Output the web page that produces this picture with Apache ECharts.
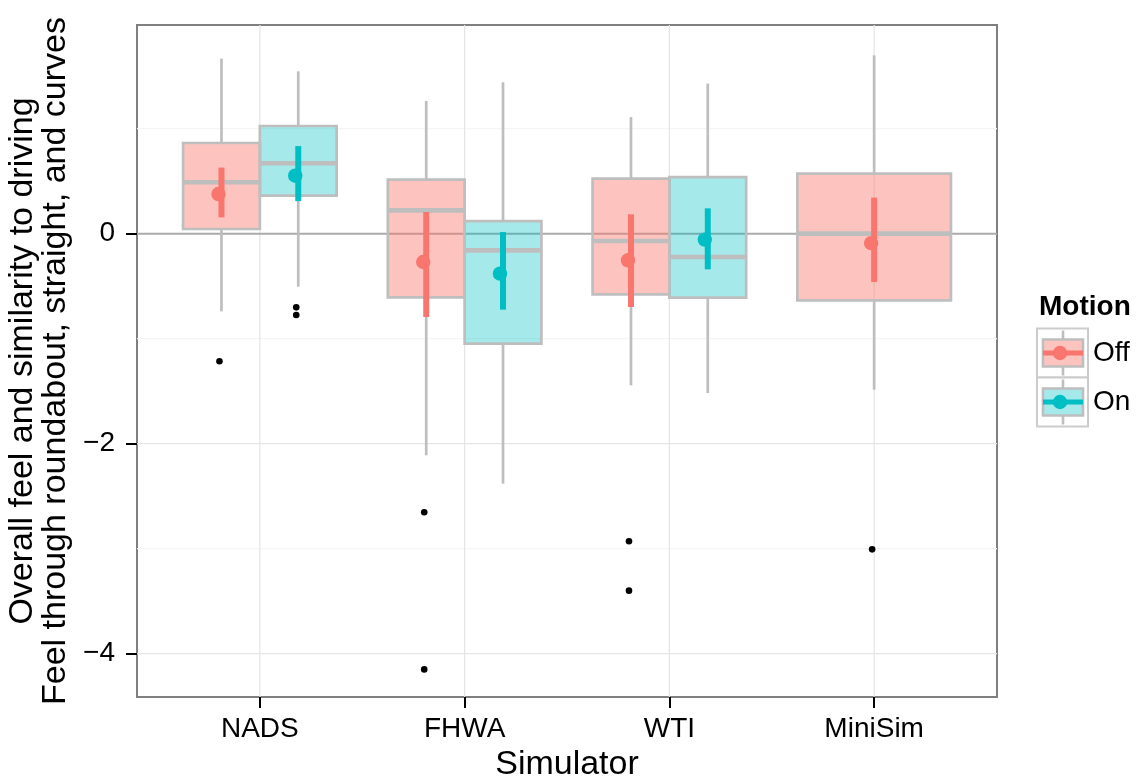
<!DOCTYPE html>
<html><head><meta charset="utf-8">
<script src="https://cdn.jsdelivr.net/npm/echarts@6/dist/echarts.min.js"></script>
<style>html,body{margin:0;padding:0;background:#fff}#c{width:1138px;height:777px}</style>
</head><body><div id="c"></div>
<script>
// ---- data ----
const categories = ['NADS', 'FHWA', 'WTI', 'MiniSim'];
const motionLevels = ['Off', 'On'];
// per category: [lower whisker, Q1, median, Q3, upper whisker]
const offBox = [
  [-0.740, 0.044, 0.489, 0.863, 1.667],
  [-2.111, -0.607, 0.222, 0.514, 1.263],
  [-1.445, -0.578, -0.070, 0.524, 1.110],
  [-1.486, -0.635, 0.000, 0.571, 1.698]
];
const onBox = [
  [-0.505, 0.362, 0.670, 1.025, 1.546],
  [-2.381, -1.048, -0.159, 0.120, 1.441],
  [-1.518, -0.610, -0.223, 0.539, 1.429],
  null
];
const offMean = [0.377, -0.270, -0.254, -0.090];
const offLow  = [0.155, -0.794, -0.699, -0.461];
const offHigh = [0.629, 0.206, 0.184, 0.343];
const onMean  = [0.552, -0.381, -0.057, null];
const onLow   = [0.310, -0.724, -0.340, null];
const onHigh  = [0.834, 0.015, 0.241, null];
// [category index, value]
const offOutliers = [[0, -1.216], [1, -2.654], [1, -4.150], [2, -2.930], [2, -3.400], [3, -3.007]];
const onOutliers  = [[0, -0.702], [0, -0.775]];
const yTicks = [-4, -2, 0];
const yMinorTicks = [-3, -1, 1];
const yRange = [-4.413, 1.987];
const xTicks = [1, 2, 3, 4];

// ---- styles ----
const fills = ['rgba(248,118,109,0.44)', 'rgba(0,191,196,0.35)'];
const cols = ['#F8766D', '#00BFC4'];
const boxGrey = '#BEBEBE';
const FONT = 'Liberation Sans, Arial, Helvetica, sans-serif';

function slot(i, g) {
  const single = onBox[i] == null;
  if (single) return { c: i + 1, w: 0.75 };
  return { c: i + 1 + (g === 0 ? -0.1875 : 0.1875), w: 0.375 };
}

function boxSeries(g, arr) {
  const data = [];
  arr.forEach((b, i) => { if (b) data.push([i].concat(b)); });
  return {
    type: 'custom', z: 3, silent: true,
    data: data,
    encode: { x: 0, y: [1, 2, 3, 4, 5] },
    renderItem: function (params, api) {
      const i = api.value(0);
      const s = slot(i, g);
      const tl = api.coord([s.c - s.w / 2, api.value(4)]);
      const br = api.coord([s.c + s.w / 2, api.value(2)]);
      const mid = api.coord([s.c, api.value(3)]);
      const top = api.coord([s.c, api.value(5)]);
      const bot = api.coord([s.c, api.value(1)]);
      const ls = { stroke: boxGrey, lineWidth: 2.7 };
      return {
        type: 'group', children: [
          { type: 'line', shape: { x1: top[0], y1: top[1], x2: top[0], y2: tl[1] }, style: ls },
          { type: 'line', shape: { x1: bot[0], y1: br[1], x2: bot[0], y2: bot[1] }, style: ls },
          { type: 'rect', shape: { x: tl[0], y: tl[1], width: br[0] - tl[0], height: br[1] - tl[1] },
            style: { fill: fills[g], stroke: boxGrey, lineWidth: 2.7 } },
          { type: 'line', shape: { x1: tl[0], y1: mid[1], x2: br[0], y2: mid[1] }, style: { stroke: boxGrey, lineWidth: 4.6 } }
        ]
      };
    }
  };
}

function meanSeries(g, m, lo, hi) {
  const data = [];
  m.forEach((v, i) => { if (v != null) data.push([i, v, lo[i], hi[i]]); });
  return {
    type: 'custom', z: 4, silent: true,
    data: data,
    encode: { x: 0, y: [1, 2, 3] },
    renderItem: function (params, api) {
      const s = slot(api.value(0), g);
      const p = api.coord([s.c, api.value(1)]);
      const l = api.coord([s.c, api.value(2)]);
      const h = api.coord([s.c, api.value(3)]);
      return {
        type: 'group', children: [
          { type: 'line', shape: { x1: l[0], y1: l[1], x2: h[0], y2: h[1] }, style: { stroke: cols[g], lineWidth: 6 } },
          { type: 'circle', shape: { cx: p[0] - 3, cy: p[1], r: 7.2 }, style: { fill: cols[g] } }
        ]
      };
    }
  };
}

function outlierSeries(g, arr) {
  return {
    type: 'custom', z: 4, silent: true,
    data: arr,
    encode: { x: 0, y: 1 },
    renderItem: function (params, api) {
      const s = slot(api.value(0), g);
      const p = api.coord([s.c, api.value(1)]);
      return { type: 'circle', shape: { cx: p[0] - 2, cy: p[1], r: 3.3 }, style: { fill: '#000' } };
    }
  };
}

function hGridSeries(vals, color, width, z) {
  return {
    type: 'custom', z: z, silent: true, clip: true,
    data: vals.map(v => [0, v]),
    encode: { y: 1 },
    renderItem: function (params, api) {
      const cs = params.coordSys;
      const y = api.coord([1, api.value(1)])[1];
      return { type: 'line', shape: { x1: cs.x, y1: y, x2: cs.x + cs.width, y2: y }, style: { stroke: color, lineWidth: width } };
    }
  };
}
function vGridSeries(vals, color, width, z) {
  return {
    type: 'custom', z: z, silent: true, clip: true,
    data: vals.map(v => [v, 0]),
    encode: { x: 0 },
    renderItem: function (params, api) {
      const cs = params.coordSys;
      const x = api.coord([api.value(0), 0])[0];
      return { type: 'line', shape: { x1: x, y1: cs.y, x2: x, y2: cs.y + cs.height }, style: { stroke: color, lineWidth: width } };
    }
  };
}

// legend graphic
function legendKey(g, y0) {
  const x0 = 1037, w = 51, h = 49;
  const bx = x0 + 6, bw = 40, by = y0 + 11, bh = 27;
  const cx = bx + bw / 2, cy = by + bh / 2;
  return [
    { type: 'rect', shape: { x: x0, y: y0, width: w, height: h }, style: { fill: '#fff', stroke: '#CCCCCC', lineWidth: 2 } },
    { type: 'line', shape: { x1: cx, y1: y0 + 2, x2: cx, y2: by }, style: { stroke: boxGrey, lineWidth: 2.6 } },
    { type: 'line', shape: { x1: cx, y1: by + bh, x2: cx, y2: y0 + h - 2 }, style: { stroke: boxGrey, lineWidth: 2.6 } },
    { type: 'rect', shape: { x: bx, y: by, width: bw, height: bh }, style: { fill: fills[g], stroke: boxGrey, lineWidth: 2.6 } },
    { type: 'line', shape: { x1: bx, y1: cy, x2: bx + bw, y2: cy }, style: { stroke: cols[g], lineWidth: 5 } },
    { type: 'circle', shape: { cx: cx - 3, cy: cy, r: 7.2 }, style: { fill: cols[g] } },
    { type: 'text', x: 1093, y: cy, style: { text: motionLevels[g], font: '28px ' + FONT, fill: '#000', verticalAlign: 'middle', align: 'left' } }
  ];
}

const chart = echarts.init(document.getElementById('c'), null, { renderer: 'canvas' });
chart.setOption({
  animation: false,
  backgroundColor: '#fff',
  grid: { left: 137, top: 25, right: 141, bottom: 80, containLabel: false, outerBoundsMode: 'none',
    show: true, borderColor: '#7F7F7F', borderWidth: 2, backgroundColor: '#fff' },
  xAxis: {
    type: 'value', min: 0.4, max: 4.6,
    name: 'Simulator', nameLocation: 'middle', nameGap: 41,
    nameTextStyle: { fontFamily: FONT, fontSize: 34, color: '#000' },
    axisLine: { show: false, onZero: false },
    axisTick: { show: true, customValues: xTicks, length: 11, lineStyle: { color: '#000', width: 2 } },
    axisLabel: { show: true, customValues: xTicks, margin: 18, fontFamily: FONT, fontSize: 28, color: '#000',
      formatter: v => categories[Math.round(v) - 1] || '' },
    splitLine: { show: false }
  },
  yAxis: {
    type: 'value', min: yRange[0], max: yRange[1],
    name: 'Overall feel and similarity to driving\nFeel through roundabout, straight, and curves',
    nameLocation: 'middle', nameRotate: 90, nameGap: 62,
    nameTextStyle: { fontFamily: FONT, fontSize: 34, color: '#000', lineHeight: 33 },
    axisLine: { show: false, onZero: false },
    axisTick: { show: true, customValues: yTicks, length: 11, lineStyle: { color: '#000', width: 2 } },
    axisLabel: { show: true, customValues: yTicks, margin: 22, fontFamily: FONT, fontSize: 28, color: '#000',
      formatter: v => (v < 0 ? '\u2212' + Math.abs(v) : String(v)) },
    splitLine: { show: false }
  },
  graphic: [
    { type: 'text', x: 1039, y: 307, style: { text: 'Motion', font: 'bold 28px ' + FONT, fill: '#000', verticalAlign: 'middle', align: 'left' } }
  ].concat(legendKey(0, 328.5)).concat(legendKey(1, 377.5)),
  series: [
    hGridSeries(yMinorTicks, '#F5F5F5', 1.2, 1),
    hGridSeries(yTicks, '#E5E5E5', 1.2, 1),
    vGridSeries(xTicks, '#E5E5E5', 1.2, 1),
    hGridSeries([0], '#ABABAB', 2, 2),
    boxSeries(0, offBox),
    boxSeries(1, onBox),
    outlierSeries(0, offOutliers),
    outlierSeries(1, onOutliers),
    meanSeries(0, offMean, offLow, offHigh),
    meanSeries(1, onMean, onLow, onHigh)
  ]
});
</script></body></html>
